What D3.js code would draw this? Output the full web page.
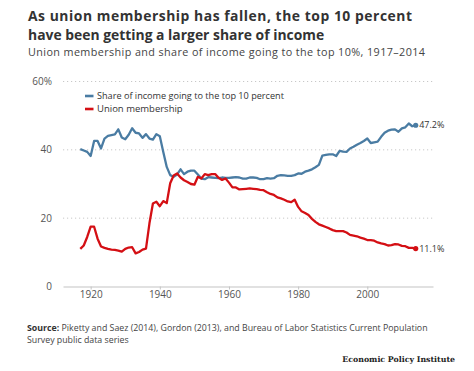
<!DOCTYPE html>
<html><head><meta charset="utf-8">
<script src="https://cdn.jsdelivr.net/npm/d3@7"></script>
<style>body{margin:0;background:#fff}svg{display:block}</style>
</head><body><svg id="c" width="474" height="371"></svg>
<script>
const years = d3.range(1917, 2015);
const topShare = [40.2,39.8,39.4,38.2,42.6,42.6,40.4,43.3,44.1,44.3,44.5,46.0,43.6,43.1,44.4,46.3,45.0,44.8,43.5,44.6,
43.3,43.0,44.6,44.0,39.4,35.0,32.6,32.1,32.8,34.3,32.9,33.6,33.9,33.9,32.8,31.6,31.4,32.0,31.9,31.8,
31.7,31.9,31.8,31.8,31.9,32.0,31.9,31.6,31.6,31.9,31.9,31.8,31.4,31.4,31.7,31.6,31.7,32.4,32.6,32.5,
32.4,32.4,32.6,33.1,33.0,33.6,33.9,34.3,34.9,35.6,38.3,38.5,38.7,38.7,38.2,39.7,39.5,39.4,40.4,40.9,
41.5,42.0,42.6,43.3,42.0,42.2,42.4,43.8,45.0,45.6,45.9,46.0,45.3,46.3,46.6,47.7,46.9,47.2];
const union = [11.0,12.0,14.5,17.5,17.5,14.0,11.7,11.3,11.0,10.8,10.7,10.5,10.2,11.0,11.4,11.5,9.7,10.1,10.8,11.1,
18.5,24.3,24.8,23.5,25.0,24.4,30.2,32.5,33.1,31.9,31.1,30.6,30.0,29.8,32.1,31.6,32.9,32.6,32.9,32.9,
31.8,31.2,31.6,30.4,29.0,29.0,28.4,28.5,28.6,28.7,28.6,28.5,28.3,28.2,27.6,27.1,26.8,26.1,25.8,25.4,
24.9,24.7,25.4,23.3,22.0,21.5,20.9,19.8,18.9,18.2,17.8,17.4,17.0,16.5,16.2,16.2,16.2,15.8,15.1,14.9,
14.7,14.3,14.0,13.6,13.6,13.4,12.9,12.6,12.4,12.0,12.1,12.4,12.3,11.9,11.8,11.3,11.3,11.1];
const seriesNames = ["Share of income going to the top 10 percent", "Union membership"];
const seriesColors = ["#4a7ca3", "#d40f14"];
const yTicks = [0, 20, 40, 60];
const yTickLabels = ["0", "20", "40", "60%"];
const xTicks = [1920, 1940, 1960, 1980, 2000];
const titleLines = ["As union membership has fallen, the top 10 percent", "have been getting a larger share of income"];
const subtitle = "Union membership and share of income going to the top 10%, 1917–2014";
const sourceBold = "Source:";
const sourceLines = [" Piketty and Saez (2014), Gordon (2013), and Bureau of Labor Statistics Current Population", "Survey public data series"];
const credit = "Economic Policy Institute";

const svg = d3.select("#c");
const sans = "'Open Sans', Lato, sans-serif";

function fit(sel, w, maxFs) {
  const n = sel.node();
  const cur = n.getComputedTextLength();
  const fs = parseFloat(sel.attr("font-size"));
  let nf = fs * w / cur;
  if (maxFs && nf > maxFs) {
    nf = maxFs;
    sel.attr("font-size", nf.toFixed(2));
    sel.attr("textLength", w).attr("lengthAdjust", "spacing");
  } else sel.attr("font-size", nf.toFixed(2));
}

const x = d3.scaleLinear().domain([1912, 2019]).range([63, 433]);
const y = d3.scaleLinear().domain([0, 60]).range([286.5, 81.5]);

const t1 = svg.append("text").attr("x", 28).attr("y", 21).attr("font-family", sans).attr("font-weight", 700)
  .attr("font-size", 14).attr("fill", "#333").text(titleLines[0]);
fit(t1, 384, 13.9);
const fsT = t1.attr("font-size");
svg.append("text").attr("x", 28).attr("y", 40).attr("font-family", sans).attr("font-weight", 700)
  .attr("font-size", fsT).attr("fill", "#333").text(titleLines[1]);
const st = svg.append("text").attr("x", 28).attr("y", 55.5).attr("font-family", sans)
  .attr("font-size", 11).attr("fill", "#444").text(subtitle);
fit(st, 397, 10.8);

svg.selectAll("line.grid").data(yTicks.filter(d => d > 0)).join("line").attr("class", "grid")
  .attr("x1", 63).attr("x2", 433).attr("y1", d => y(d)).attr("y2", d => y(d))
  .attr("stroke", "#c8c8c8").attr("stroke-width", 1).attr("stroke-dasharray", "1.2,2.8");
const xAxis = d3.axisBottom(x).tickValues(xTicks).tickFormat(d3.format("d")).tickSize(3).tickSizeOuter(0);
const ax = svg.append("g").attr("transform", `translate(0,${y(0)})`).call(xAxis);
ax.select(".domain").attr("stroke", "#c4c4c4").attr("stroke-width", 1.2);
ax.selectAll(".tick line").attr("stroke", "#c4c4c4");
ax.selectAll(".tick text").attr("font-family", sans).attr("font-size", 10).attr("fill", "#555").attr("dy", "0.55em");

svg.selectAll("text.ylab").data(yTicks).join("text").attr("class", "ylab")
  .attr("x", 52).attr("y", d => y(d)).attr("dy", "0.35em").attr("text-anchor", "end")
  .attr("font-family", sans).attr("font-size", 10).attr("fill", "#555")
  .text((d, i) => yTickLabels[i]);

const data = [topShare, union];
const line = d3.line().x((d, i) => x(years[i])).y(d => y(d));
data.forEach((s, k) => {
  svg.append("path").attr("d", line(s)).attr("fill", "none").attr("stroke", seriesColors[k])
    .attr("stroke-width", 2.3).attr("stroke-linejoin", "round");
  const last = s[s.length - 1];
  svg.append("circle").attr("cx", x(years[years.length - 1])).attr("cy", y(last)).attr("r", 2.6).attr("fill", seriesColors[k]);
  svg.append("text").attr("x", x(years[years.length - 1]) + 3.5).attr("y", y(last)).attr("dy", "0.35em")
    .attr("font-family", sans).attr("font-size", 9).attr("fill", "#333").text(last.toFixed(1) + "%");
});

seriesNames.forEach((n, k) => {
  const ly = 96 + k * 13;
  svg.append("line").attr("x1", 85).attr("x2", 93.5).attr("y1", ly).attr("y2", ly)
    .attr("stroke", seriesColors[k]).attr("stroke-width", 2.6);
  const lt = svg.append("text").attr("x", 97).attr("y", ly).attr("dy", "0.35em").attr("font-family", sans)
    .attr("font-size", 9.5).attr("fill", "#333").text(n);
  if (k === 0) fit(lt, 187, 9.5);
});

const src = svg.append("text").attr("x", 27).attr("y", 331).attr("font-family", sans).attr("font-size", 9.5).attr("fill", "#444");
src.append("tspan").attr("font-weight", 700).attr("fill", "#333").text(sourceBold);
src.append("tspan").text(sourceLines[0]);
fit(src, 401, 9.5);
svg.append("text").attr("x", 27).attr("y", 343).attr("font-family", sans).attr("font-size", src.attr("font-size"))
  .attr("fill", "#444").text(sourceLines[1]);
const cr = svg.append("text").attr("x", 455).attr("y", 362).attr("text-anchor", "end")
  .attr("font-family", "'DejaVu Serif', 'Liberation Serif', serif").attr("font-weight", 700)
  .attr("font-size", 9).attr("fill", "#222").text(credit);
fit(cr, 113, 9.5);
</script></body></html>
